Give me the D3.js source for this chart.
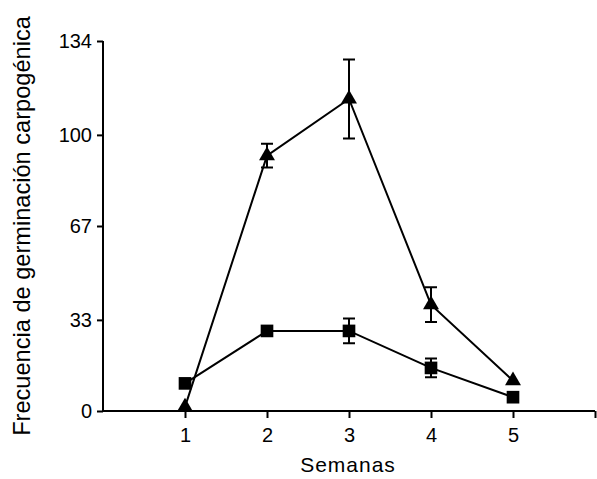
<!DOCTYPE html>
<html>
<head>
<meta charset="utf-8">
<script src="https://cdn.jsdelivr.net/npm/d3@7"></script>
<style>
  body { margin: 0; background: #fff; }
  svg { font-family: "Liberation Sans", Arial, sans-serif; }
</style>
</head>
<body>
<svg></svg>
<script>
const width = 597;
const height = 479;

const weeks = [1, 2, 3, 4, 5];
const yTicks = [0, 33, 67, 100, 134];

// triangle series
const triMean = [1.5, 92.5, 113, 38.5, 11];
const triErr = [0, 4.3, 14.3, 6.3, 0];
// square series
const sqMean = [10, 29, 29, 15.6, 5];
const sqErr = [0.8, 1.2, 4.5, 3.4, 0.8];

const margin = { left: 103, right: 2, top: 41, bottom: 68 };

const svg = d3.select("svg").attr("width", width).attr("height", height);

const xScale = d3.scaleLinear().domain([0, 6]).range([margin.left, width - margin.right]);
const yScale = d3.scaleLinear().domain([0, 134]).range([height - margin.bottom, margin.top]);

const xAxis = d3.axisBottom(xScale).tickValues([1, 2, 3, 4, 5, 6])
  .tickFormat(d => d === 6 ? "" : d).tickSize(7).tickPadding(10);
const yAxis = d3.axisLeft(yScale).tickValues(yTicks).tickSize(6).tickPadding(5);

const gx = svg.append("g")
  .attr("transform", "translate(0, " + yScale(0) + ")")
  .call(xAxis);
const gy = svg.append("g")
  .attr("transform", "translate(" + margin.left + ", 0)")
  .call(yAxis);

[gx, gy].forEach(g => {
  g.select(".domain").attr("stroke", "#000").attr("stroke-width", 2);
  g.selectAll(".tick line").attr("stroke", "#000").attr("stroke-width", 2);
  g.selectAll(".tick text").attr("fill", "#000").style("font-size", "20px");
});
gx.select(".domain").attr("d", "M" + margin.left + ",0H" + (width - margin.right));
gy.select(".domain").attr("d", "M0," + yScale(134) + "V" + yScale(0));

const line = d3.line().x((d, i) => xScale(weeks[i])).y(d => yScale(d));

function drawSeries(mean, err, symbolType, size) {
  const g = svg.append("g");
  g.append("path")
    .datum(mean)
    .attr("d", line)
    .attr("fill", "none")
    .attr("stroke", "#000")
    .attr("stroke-width", 2);

  mean.forEach((m, i) => {
    if (err[i] <= 0) return;
    const x = xScale(weeks[i]);
    const y0 = yScale(m - err[i]);
    const y1 = yScale(m + err[i]);
    g.append("path")
      .attr("d", "M" + x + "," + y0 + "V" + y1 +
        "M" + (x - 6) + "," + y0 + "H" + (x + 6) +
        "M" + (x - 6) + "," + y1 + "H" + (x + 6))
      .attr("stroke", "#000")
      .attr("stroke-width", 2)
      .attr("fill", "none");
  });

  g.selectAll(".m")
    .data(mean)
    .join("path")
    .attr("transform", (d, i) => "translate(" + xScale(weeks[i]) + "," + yScale(d) + ")")
    .attr("d", d3.symbol().type(symbolType).size(size))
    .attr("fill", "#000");
}

drawSeries(sqMean, sqErr, d3.symbolSquare, 160);
drawSeries(triMean, triErr, d3.symbolTriangle, 110);

svg.append("text")
  .attr("x", 348)
  .attr("y", 472)
  .attr("text-anchor", "middle")
  .style("font-size", "21px")
  .style("letter-spacing", "1px")
  .text("Semanas");

svg.append("text")
  .attr("transform", "translate(30, 226) rotate(-90)")
  .attr("text-anchor", "middle")
  .style("font-size", "23.6px")
  .text("Frecuencia de germinación carpogénica");
</script>
</body>
</html>
